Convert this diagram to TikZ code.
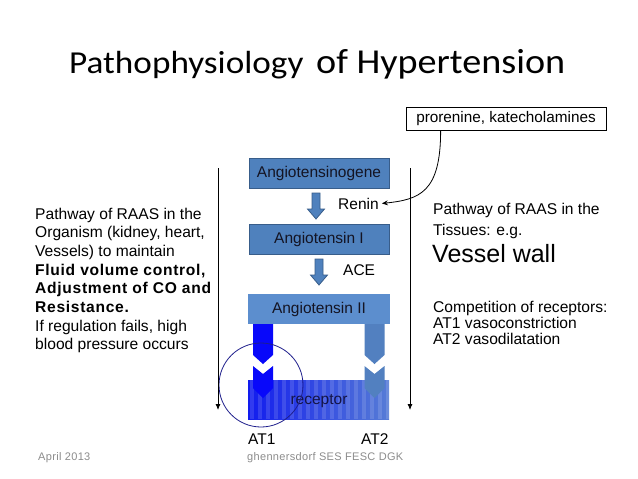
\documentclass[tikz,border=0pt]{standalone}
\usepackage{fontspec}
\setmainfont{Liberation Sans}
\newfontfamily\titlefont{Carlito}
\newfontfamily\widebold[LetterSpace=4.5]{Liberation Sans Bold}
\newfontfamily\footfont[LetterSpace=3]{Liberation Sans}
\usetikzlibrary{arrows.meta,calc}
\definecolor{boxblue}{RGB}{79,129,189}
\definecolor{boxborder}{RGB}{56,93,138}
\definecolor{angtwo}{RGB}{92,142,206}
\definecolor{barblue}{RGB}{8,8,250}
\definecolor{bartwo}{RGB}{82,128,192}
\definecolor{recleft}{RGB}{18,28,238}
\definecolor{recright}{RGB}{86,124,214}
\definecolor{circnavy}{RGB}{30,30,140}
\definecolor{rectxt}{RGB}{20,20,70}
\definecolor{footgray}{RGB}{140,140,140}
\definecolor{boxtxt}{RGB}{20,20,35}
\tikzset{
  bluebox/.style={draw=boxborder, line width=0.9pt, fill=boxblue, text=boxtxt,
    minimum width=140pt, minimum height=30pt, inner sep=0pt,
    font=\fontsize{15.5}{18}\selectfont},
  angbox/.style={fill=angtwo, text=boxtxt, minimum width=142pt, minimum height=30pt,
    inner sep=0pt, font=\fontsize{15.5}{18}\selectfont},
  probox/.style={draw=black, line width=0.7pt, fill=white, minimum width=200pt,
    minimum height=23pt, inner sep=0pt, font=\fontsize{15.3}{17}\selectfont},
  lbl/.style={inner sep=0pt, anchor=base west, font=\fontsize{15.5}{18}\selectfont},
  body/.style={inner sep=0pt, anchor=base west, font=\fontsize{15.6}{18}\selectfont},
  boldbody/.style={inner sep=0pt, anchor=base west, font=\widebold\fontsize{15.6}{18}\selectfont},
  foot/.style={inner sep=0pt, anchor=base west, text=footgray, font=\footfont\fontsize{11}{13}\selectfont},
  vline/.style={draw=black, line width=0.8pt, -{Latex[length=6pt,width=5pt]}},
  curvearrow/.style={draw=black, line width=0.8pt, -{Stealth[length=6pt,width=5pt]}},
  blockarr/.style={draw=boxborder, line width=0.8pt, fill=boxblue},
  pics/blockarrow/.style={code={
    \draw[blockarr] (-4,0) -- (4,0) -- (4,#1-10) -- (8.5,#1-10) -- (0,#1) -- (-8.5,#1-10) -- (-4,#1-10) -- cycle;}},
  pics/recbar/.style={code={
    \fill[#1] (-10,0) -- (10,0) -- (10,31) -- (0,40) -- (-10,31) -- cycle;
    \fill[#1] (-10,42) -- (0,50) -- (10,42) -- (10,64) -- (0,74) -- (-10,64) -- cycle;}}
}
\begin{document}
\begin{tikzpicture}[x=1pt,y=-1pt]
\fill[white] (0,0) rectangle (638,479);
\path[use as bounding box] (0,0) rectangle (638,479);

% title
\node[inner sep=0pt, anchor=base west, font=\titlefont\fontsize{32}{36}\selectfont] (t1) at (69,73) {\scalebox{1.1}[1]{Pathophysiology}};
\node[inner sep=0pt, anchor=base west, font=\titlefont\fontsize{35}{40}\selectfont] (t2) at (316,73) {\scalebox{1.09}[1]{of Hypertension}};

% cascade boxes
\node[bluebox] (agen) at (319,173) {Angiotensinogene};
\node[bluebox] (ang1) at (319,239) {Angiotensin I};
\node[lbl] (renin) at (338,209) {Renin};
\node[lbl] (ace) at (343,275) {ACE};
\pic at (316,193) {blockarrow=26};
\pic at (319,259) {blockarrow=26};

% receptor
\node[minimum width=141pt, minimum height=39pt, inner sep=0pt, left color=recleft, right color=recright] (rec) at (318.5,399.5) {};
\foreach \i in {0,...,17} {
  \fill[white, opacity=0.13] (250+8*\i,380) rectangle (254+8*\i,419);
}
\node[angbox] (ang2) at (319,309) {Angiotensin II};
\pic at (263,324) {recbar=barblue};
\pic at (374.5,324) {recbar=bartwo};
\node[inner sep=0pt, text=rectxt, font=\fontsize{15.5}{18}\selectfont] (rtxt) at (319,401) {receptor};
\draw[circnavy, line width=0.8pt] (261,385) circle [radius=42];
\node[lbl] (at1) at (248,444) {AT1};
\node[lbl] (at2) at (361,444) {AT2};

% vertical arrows
\coordinate (ltop) at (218,168);
\coordinate (lbot) at (218,410);
\coordinate (rtop) at (410,168);
\coordinate (rbot) at (410,410);
\draw[vline] (ltop) -- (lbot);
\draw[vline] (rtop) -- (rbot);

% prorenine
\node[probox] (pro) at (506,118.5) {prorenine, katecholamines};
\draw[curvearrow] ([xshift=35pt]pro.south west) .. controls +(0,62) and +(38,-4) .. ([xshift=3pt]renin.east);

% left text
\node[body] (l1) at (35,219) {Pathway of RAAS in the};
\node[body] (l2) at (35,237.7) {Organism (kidney, heart,};
\node[body] (l3) at (35,256.4) {Vessels) to maintain};
\node[boldbody] (l4) at (35,275.1) {Fluid volume control,};
\node[boldbody] (l5) at (35,293.8) {Adjustment of CO and};
\node[boldbody] (l6) at (35,312.5) {Resistance.};
\node[body] (l7) at (35,331.2) {If regulation fails, high};
\node[body] (l8) at (35,349.9) {blood pressure occurs};

% right text
\node[body] (r1) at (433,214) {Pathway of RAAS in the};
\node[body] (r2) at (433,235) {Tissues: e.g.};
\node[inner sep=0pt, anchor=base west, font=\fontsize{25}{29}\selectfont] (r3) at (432,262) {Vessel wall};
\node[body] (r4) at (433,312) {Competition of receptors:};
\node[body] (r5) at (433,328) {AT1 vasoconstriction};
\node[body] (r6) at (433,344) {AT2 vasodilatation};

% footer
\node[foot] (date) at (38,460) {April 2013};
\node[foot] (author) at (247,460) {ghennersdorf SES FESC DGK};
\end{tikzpicture}
\end{document}
